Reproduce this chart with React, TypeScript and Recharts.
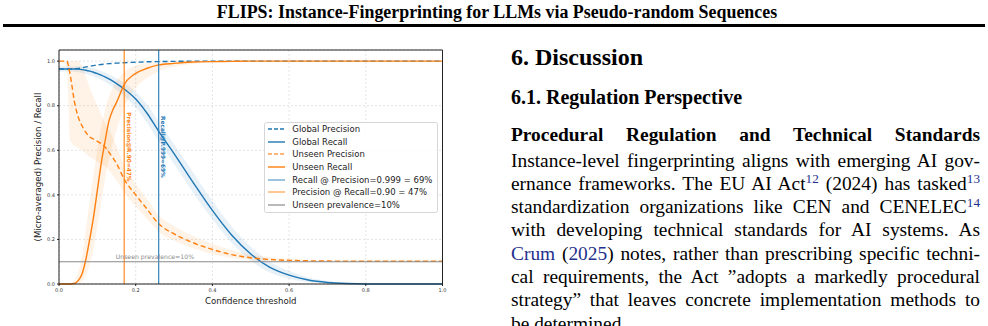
import React from "react";
import {
  ComposedChart,
  Line,
  Area,
  XAxis,
  YAxis,
  CartesianGrid,
  ReferenceLine,
  Legend,
} from "recharts";

// ---- chart data ----
const THRESHOLDS = [
  0, 0.02, 0.03, 0.04, 0.05, 0.06, 0.07, 0.08, 0.09, 0.1, 0.11, 0.12, 0.13, 0.14,
  0.15, 0.17, 0.2, 0.23, 0.26, 0.3, 0.35, 0.4, 0.45, 0.5, 0.55, 0.6, 0.65, 0.7,
  0.75, 0.8, 0.9, 1.0,
];

const GLOBAL_PRECISION = [
  0.965, 0.965, 0.965, 0.966, 0.967, 0.97, 0.974, 0.977, 0.98, 0.983, 0.985,
  0.987, 0.989, 0.99, 0.991, 0.993, 0.995, 0.997, 0.998, 0.999, 1, 1, 1, 1, 1, 1,
  1, 1, 1, 1, 1, 1,
];

const GLOBAL_RECALL = [
  0.965, 0.965, 0.965, 0.965, 0.964, 0.962, 0.959, 0.955, 0.95, 0.944, 0.937,
  0.929, 0.92, 0.91, 0.899, 0.875, 0.83, 0.765, 0.685, 0.585, 0.455, 0.33, 0.22,
  0.135, 0.075, 0.04, 0.018, 0.007, 0.002, 0, 0, 0,
];
const GLOBAL_RECALL_LO = [
  0.953, 0.953, 0.953, 0.952, 0.95, 0.947, 0.943, 0.938, 0.932, 0.925, 0.917,
  0.907, 0.896, 0.884, 0.871, 0.843, 0.792, 0.722, 0.64, 0.54, 0.41, 0.29, 0.185,
  0.105, 0.052, 0.024, 0.009, 0.003, 0.001, 0, 0, 0,
];
const GLOBAL_RECALL_HI = [
  0.977, 0.977, 0.977, 0.977, 0.977, 0.976, 0.974, 0.971, 0.967, 0.962, 0.956,
  0.949, 0.941, 0.932, 0.922, 0.902, 0.862, 0.805, 0.728, 0.628, 0.5, 0.372,
  0.258, 0.167, 0.1, 0.058, 0.029, 0.013, 0.005, 0.001, 0, 0,
];

const UNSEEN_PRECISION = [
  1, 1, 0.93, 0.82, 0.75, 0.71, 0.68, 0.66, 0.65, 0.64, 0.63, 0.615, 0.592,
  0.567, 0.541, 0.47, 0.4, 0.335, 0.27, 0.225, 0.185, 0.155, 0.132, 0.118, 0.11,
  0.106, 0.104, 0.103, 0.102, 0.102, 0.102, 0.102,
];
const UNSEEN_PRECISION_LO = [
  1, 0.98, 0.64, 0.62, 0.61, 0.6, 0.585, 0.57, 0.56, 0.55, 0.54, 0.53, 0.51,
  0.49, 0.465, 0.41, 0.35, 0.29, 0.235, 0.195, 0.16, 0.135, 0.117, 0.107, 0.102,
  0.1, 0.099, 0.099, 0.099, 0.099, 0.099, 0.099,
];
const UNSEEN_PRECISION_HI = [
  1, 1, 1, 1, 1, 0.98, 0.93, 0.88, 0.84, 0.8, 0.76, 0.72, 0.69, 0.66, 0.62, 0.53,
  0.45, 0.38, 0.31, 0.26, 0.215, 0.18, 0.152, 0.132, 0.12, 0.113, 0.109, 0.107,
  0.106, 0.105, 0.105, 0.105,
];

const UNSEEN_RECALL = [
  0, 0, 0, 0.002, 0.015, 0.045, 0.11, 0.2, 0.3, 0.42, 0.54, 0.64, 0.73, 0.78,
  0.815, 0.895, 0.945, 0.968, 0.983, 0.99, 0.996, 0.998, 0.999, 1, 1, 1, 1, 1, 1,
  1, 1, 1,
];
const UNSEEN_RECALL_LO = [
  0, 0, 0, 0, 0.002, 0.012, 0.04, 0.09, 0.16, 0.26, 0.37, 0.47, 0.56, 0.63, 0.69,
  0.79, 0.88, 0.925, 0.955, 0.975, 0.988, 0.994, 0.997, 0.999, 1, 1, 1, 1, 1, 1,
  1, 1,
];
const UNSEEN_RECALL_HI = [
  0, 0, 0.002, 0.015, 0.05, 0.12, 0.24, 0.37, 0.49, 0.6, 0.7, 0.78, 0.84, 0.88,
  0.91, 0.95, 0.98, 0.99, 0.995, 0.998, 1, 1, 1, 1, 1, 1, 1, 1, 1, 1, 1, 1,
];

const X_TICKS = [0, 0.2, 0.4, 0.6, 0.8, 1.0];
const Y_TICKS = [0, 0.2, 0.4, 0.6, 0.8, 1.0];

const PRECISION_AT_RECALL = 0.17; // threshold where unseen recall = 0.90
const RECALL_AT_PRECISION = 0.26; // threshold where precision = 0.999
const PREVALENCE = 0.1;

const LEGEND_LABELS = [
  "Global Precision",
  "Global Recall",
  "Unseen Precision",
  "Unseen Recall",
  "Recall @ Precision=0.999 = 69%",
  "Precision @ Recall=0.90 = 47%",
  "Unseen prevalence=10%",
];

const TITLE = "FLIPS: Instance-Fingerprinting for LLMs via Pseudo-random Sequences";

// paragraph split into the printed lines; kind: b = bold, sup = footnote, link = citation
type Seg = { text: string; kind?: "b" | "sup" | "link" };
const PARAGRAPH_LINES: Seg[][] = [
  [{ text: "Procedural Regulation and Technical Standards", kind: "b" }],
  [{ text: "Instance-level fingerprinting aligns with emerging AI gov-" }],
  [
    { text: "ernance frameworks. The EU AI Act" },
    { text: "12", kind: "sup" },
    { text: " (2024) has tasked" },
    { text: "13", kind: "sup" },
  ],
  [
    { text: "standardization organizations like CEN and CENELEC" },
    { text: "14", kind: "sup" },
  ],
  [{ text: "with developing technical standards for AI systems.  As" }],
  [
    { text: "Crum", kind: "link" },
    { text: " (" },
    { text: "2025", kind: "link" },
    { text: ") notes, rather than prescribing specific techni-" },
  ],
  [{ text: "cal requirements, the Act \u201dadopts a markedly procedural" }],
  [{ text: "strategy\u201d that leaves concrete implementation methods to" }],
  [{ text: "be determined." }],
];

// ---- styles ----
const BLUE = "#1f77b4";
const ORANGE = "#ff7f0e";
const GRAY = "#8a8a8a";
const AXIS = "#222";
const CHART_FONT = '"DejaVu Sans", sans-serif';
const SERIF = '"Liberation Serif", "Times New Roman", serif';

const LEGEND_STYLES = [
  { stroke: BLUE, width: 1.4, dash: "4 2", opacity: 1 },
  { stroke: BLUE, width: 1.4, dash: undefined, opacity: 1 },
  { stroke: ORANGE, width: 1.4, dash: "4 2", opacity: 0.75 },
  { stroke: ORANGE, width: 1.4, dash: undefined, opacity: 1 },
  { stroke: BLUE, width: 1.1, dash: undefined, opacity: 0.8 },
  { stroke: ORANGE, width: 1.8, dash: undefined, opacity: 0.5 },
  { stroke: "#808080", width: 1.1, dash: undefined, opacity: 1 },
];

const rows = THRESHOLDS.map((t, i) => ({
  t,
  globalPrecision: GLOBAL_PRECISION[i],
  globalRecall: GLOBAL_RECALL[i],
  unseenPrecision: UNSEEN_PRECISION[i],
  unseenRecall: UNSEEN_RECALL[i],
  globalRecallBand: [GLOBAL_RECALL_LO[i], GLOBAL_RECALL_HI[i]],
  unseenPrecisionBand: [UNSEEN_PRECISION_LO[i], UNSEEN_PRECISION_HI[i]],
  unseenRecallBand: [UNSEEN_RECALL_LO[i], UNSEEN_RECALL_HI[i]],
}));

const Y_MAX = 1.05;

// rotated text next to a vertical threshold line, centred at y = 0.615
const verticalLabel = (text: string, color: string) => (props: any) => {
  const vb = props.viewBox;
  if (!vb) return null;
  const x = vb.x + 2.6;
  const y = vb.y + ((Y_MAX - 0.615) / Y_MAX) * vb.height;
  return (
    <text
      x={x}
      y={y}
      transform={`rotate(90, ${x}, ${y})`}
      textAnchor="middle"
      fill={color}
      fontSize={5.8}
      fontWeight="bold"
      fontFamily={CHART_FONT}
    >
      {text}
    </text>
  );
};

const prevalenceLabel = (props: any) => {
  const vb = props.viewBox;
  if (!vb) return null;
  return (
    <text
      x={vb.x + 0.25 * vb.width}
      y={vb.y - 3}
      textAnchor="middle"
      fill={GRAY}
      fontSize={6.2}
      fontFamily={CHART_FONT}
    >
      Unseen prevalence=10%
    </text>
  );
};

function LegendBox() {
  return (
    <div
      style={{
        width: "100%",
        height: "100%",
        boxSizing: "border-box",
        border: "1px solid #d6d6d6",
        borderRadius: 2.5,
        background: "rgba(255,255,255,0.85)",
        padding: "0 0 0 3.3px",
        fontFamily: CHART_FONT,
        fontSize: 8.5,
        color: "#222",
      }}
    >
      {LEGEND_LABELS.map((name, i) => {
        const s = LEGEND_STYLES[i];
        return (
          <div
            key={name}
            style={{ display: "flex", alignItems: "center", height: 12.7, whiteSpace: "nowrap" }}
          >
            <svg width={17} height={6} style={{ marginRight: 7 }}>
              <line
                x1={0}
                x2={17}
                y1={3}
                y2={3}
                stroke={s.stroke}
                strokeWidth={s.width}
                strokeDasharray={s.dash}
                strokeOpacity={s.opacity}
              />
            </svg>
            <span>{name}</span>
          </div>
        );
      })}
    </div>
  );
}

function Chart() {
  const tick = { fontSize: 5, fill: "#333", fontFamily: CHART_FONT };
  return (
    <ComposedChart
      width={470}
      height={286}
      data={rows}
      margin={{ top: 10, right: 27.5, bottom: 0, left: 0 }}
    >
      <CartesianGrid stroke="#d2d2d2" strokeDasharray="2 2" strokeWidth={0.6} />
      <XAxis
        dataKey="t"
        type="number"
        domain={[0, 1]}
        ticks={X_TICKS}
        tickFormatter={(v: number) => v.toFixed(1)}
        height={42}
        tick={tick}
        tickSize={2}
        axisLine={{ stroke: AXIS }}
        tickLine={{ stroke: AXIS }}
        label={{
          value: "Confidence threshold",
          position: "insideBottom",
          offset: 22,
          fontSize: 8.6,
          fill: "#222",
          fontFamily: CHART_FONT,
        }}
      />
      <YAxis
        type="number"
        domain={[0, Y_MAX]}
        ticks={Y_TICKS}
        tickFormatter={(v: number) => v.toFixed(1)}
        width={59}
        tick={tick}
        tickSize={2}
        axisLine={{ stroke: AXIS }}
        tickLine={{ stroke: AXIS }}
        label={{
          value: "(Micro-averaged) Precision / Recall",
          angle: -90,
          position: "insideLeft",
          offset: 38,
          fontSize: 8.6,
          fill: "#222",
          fontFamily: CHART_FONT,
          style: { textAnchor: "middle" },
        }}
      />

      <Area
        dataKey="unseenPrecisionBand"
        type="monotone"
        stroke="none"
        fill={ORANGE}
        fillOpacity={0.1}
        isAnimationActive={false}
      />
      <Area
        dataKey="unseenRecallBand"
        type="monotone"
        stroke="none"
        fill={ORANGE}
        fillOpacity={0.1}
        isAnimationActive={false}
      />
      <Area
        dataKey="globalRecallBand"
        type="monotone"
        stroke="none"
        fill={BLUE}
        fillOpacity={0.1}
        isAnimationActive={false}
      />

      <Line
        dataKey="globalPrecision"
        type="monotone"
        stroke={BLUE}
        strokeWidth={1.4}
        strokeDasharray="5 3"
        dot={false}
        isAnimationActive={false}
      />
      <Line
        dataKey="globalRecall"
        type="monotone"
        stroke={BLUE}
        strokeWidth={1.4}
        dot={false}
        isAnimationActive={false}
      />
      <Line
        dataKey="unseenPrecision"
        type="monotone"
        stroke={ORANGE}
        strokeWidth={1.4}
        strokeDasharray="5 3"
        dot={false}
        isAnimationActive={false}
      />
      <Line
        dataKey="unseenRecall"
        type="monotone"
        stroke={ORANGE}
        strokeWidth={1.4}
        dot={false}
        isAnimationActive={false}
      />

      <ReferenceLine
        x={PRECISION_AT_RECALL}
        stroke={ORANGE}
        strokeWidth={1.1}
        label={verticalLabel("Precision@R.90=47%", ORANGE)}
      />
      <ReferenceLine
        x={RECALL_AT_PRECISION}
        stroke={BLUE}
        strokeWidth={1.1}
        label={verticalLabel("Recall@P.999=69%", BLUE)}
      />
      <ReferenceLine y={PREVALENCE} stroke={GRAY} strokeWidth={1.1} label={prevalenceLabel} />

      {/* top and right spines */}
      <ReferenceLine y={Y_MAX} stroke={AXIS} strokeWidth={1} />
      <ReferenceLine x={1} stroke={AXIS} strokeWidth={1} />

      <Legend
        layout="vertical"
        align="center"
        verticalAlign="middle"
        wrapperStyle={{ position: "absolute", left: 264, top: 81.7, width: 174, height: 91 }}
        content={() => <LegendBox />}
      />
    </ComposedChart>
  );
}

function renderSeg(seg: Seg, i: number) {
  if (seg.kind === "b") return <b key={i}>{seg.text}</b>;
  if (seg.kind === "link")
    return (
      <span key={i} style={{ color: "#24318c" }}>
        {seg.text}
      </span>
    );
  if (seg.kind === "sup")
    return (
      <span
        key={i}
        style={{ fontSize: "0.68em", position: "relative", top: "-0.5em", color: "#24318c" }}
      >
        {seg.text}
      </span>
    );
  return <span key={i}>{seg.text}</span>;
}

export default function App() {
  const firstTop = 122.5;
  const restTop = 148.5;
  const lineStep = 23.3;
  return (
    <div
      style={{
        position: "absolute",
        left: 0,
        top: 0,
        width: 988,
        height: 326,
        overflow: "hidden",
        background: "#fff",
        fontFamily: SERIF,
        color: "#000",
      }}
    >
      <div
        style={{
          position: "absolute",
          top: 2.2,
          left: 3,
          width: 988,
          textAlign: "center",
          fontWeight: 700,
          fontSize: 17.9,
          lineHeight: "20px",
          whiteSpace: "nowrap",
        }}
      >
        {TITLE}
      </div>
      <div style={{ position: "absolute", top: 24, left: 3, width: 982, height: 2.5, background: "#000" }} />

      <div style={{ position: "absolute", left: 0, top: 40 }}>
        <Chart />
      </div>

      <div
        style={{
          position: "absolute",
          left: 511,
          top: 44.9,
          fontSize: 24,
          lineHeight: "24px",
          fontWeight: 700,
          whiteSpace: "nowrap",
        }}
      >
        6. Discussion
      </div>
      <div
        style={{
          position: "absolute",
          left: 511,
          top: 87.25,
          fontSize: 20,
          lineHeight: "20px",
          fontWeight: 700,
          whiteSpace: "nowrap",
        }}
      >
        6.1. Regulation Perspective
      </div>

      {PARAGRAPH_LINES.map((segs, li) => {
        const last = li === PARAGRAPH_LINES.length - 1;
        const top = li === 0 ? firstTop : restTop + (li - 1) * lineStep;
        return (
          <div
            key={li}
            style={{
              position: "absolute",
              left: 511,
              width: 469,
              top,
              fontSize: 19.4,
              lineHeight: `${lineStep}px`,
              textAlign: "justify",
              textAlignLast: last ? "left" : "justify",
            }}
          >
            {segs.map(renderSeg)}
          </div>
        );
      })}
    </div>
  );
}
